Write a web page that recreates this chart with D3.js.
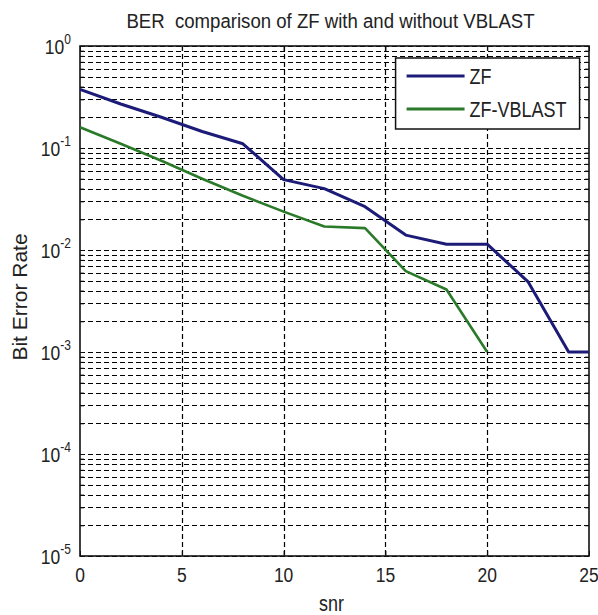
<!DOCTYPE html>
<html>
<head>
<meta charset="utf-8">
<script src="https://cdn.jsdelivr.net/npm/d3@7"></script>
<style>
body { margin: 0; background: #fff; }
text { font-family: "Liberation Sans", Arial, sans-serif; fill: #222; white-space: pre; }
</style>
</head>
<body>
<div id="chart"></div>
<script>
// snr points and BER values
var snr = [0, 2, 4, 6, 8, 10, 12, 14, 16, 18, 20, 22, 24, 25]
var berZF = [0.376, 0.27, 0.2, 0.145, 0.11, 0.049, 0.04, 0.0266, 0.014, 0.0114, 0.0114, 0.0049, 0.001, 0.001]
var snrV = [0, 2, 4, 6, 8, 10, 12, 14, 16, 18, 20]
var berVBLAST = [0.16, 0.11, 0.075, 0.05, 0.034, 0.0238, 0.017, 0.0164, 0.0062, 0.0041, 0.001]
var xTicks = [0, 5, 10, 15, 20, 25]
var yExps = [0, -1, -2, -3, -4, -5]
var seriesNames = ["ZF", "ZF-VBLAST"]
var seriesColors = ["#1c1c78", "#2a7a2a"]

var W = 598, H = 615
var margin = {top: 46, right: 9, bottom: 59, left: 80}
var width = W - margin.left - margin.right
var height = H - margin.top - margin.bottom

var svg = d3.select("#chart").append("svg")
	.attr("width", W)
	.attr("height", H)

var g = svg.append("g")
	.attr("transform", "translate(" + margin.left + "," + margin.top + ")")

var x = d3.scaleLinear().domain([0, 25]).range([0, width])
var y = d3.scaleLog().domain([1e-5, 1]).range([height, 0])

// minor log values for the horizontal grid
var yGrid = []
yExps.forEach(function(e) {
	for (var k = 1; k < 10; k++) {
		var v = k * Math.pow(10, e)
		if (v <= 1) yGrid.push(v)
	}
})

g.selectAll(".hgrid").data(yGrid).enter().append("line")
	.attr("x1", 0).attr("x2", width)
	.attr("y1", d => Math.round(y(d)) + 0.5).attr("y2", d => Math.round(y(d)) + 0.5)
	.attr("stroke", "#000").attr("stroke-width", 1.2)
	.attr("stroke-dasharray", "5,3")

g.selectAll(".vgrid").data(xTicks.slice(1, -1)).enter().append("line")
	.attr("x1", d => Math.round(x(d)) + 0.5).attr("x2", d => Math.round(x(d)) + 0.5)
	.attr("y1", 0).attr("y2", height)
	.attr("stroke", "#000").attr("stroke-width", 1.2)
	.attr("stroke-dasharray", "5,3")

// tick marks inside, on all sides
g.append("g").call(d3.axisBottom(x).tickValues(xTicks).tickSize(-5).tickFormat(""))
	.attr("transform", "translate(0," + height + ")")
g.append("g").call(d3.axisTop(x).tickValues(xTicks).tickSize(-5).tickFormat(""))
g.append("g").call(d3.axisLeft(y).tickValues(yGrid).tickSize(-4).tickFormat(""))
g.append("g").call(d3.axisRight(y).tickValues(yGrid).tickSize(-4).tickFormat(""))
	.attr("transform", "translate(" + width + ",0)")
g.selectAll(".domain").remove()
g.selectAll(".tick line").attr("stroke", "#111")

g.append("rect")
	.attr("width", width).attr("height", height)
	.attr("fill", "none").attr("stroke", "#111").attr("stroke-width", 1.6)

var line = d3.line()
	.x(d => x(d[0]))
	.y(d => y(d[1]))

g.append("path")
	.datum(d3.zip(snr, berZF))
	.attr("d", line)
	.attr("fill", "none")
	.attr("stroke", seriesColors[0])
	.attr("stroke-width", 3)
	.attr("stroke-linejoin", "round")

g.append("path")
	.datum(d3.zip(snrV, berVBLAST))
	.attr("d", line)
	.attr("fill", "none")
	.attr("stroke", seriesColors[1])
	.attr("stroke-width", 2.6)
	.attr("stroke-linejoin", "round")

// x tick labels
g.selectAll(".xlab").data(xTicks).enter().append("text")
	.attr("transform", d => "translate(" + x(d) + "," + (height + 26) + ") scale(1,1.2)")
	.attr("text-anchor", "middle")
	.style("font-size", "17.5px")
	.text(d => d)

// y tick labels 10^e
var yl = g.selectAll(".ylab").data(yExps).enter().append("text")
	.attr("transform", d => "translate(-9," + (y(Math.pow(10, d)) + 8) + ") scale(1,1.15)")
	.attr("text-anchor", "end")
	.style("font-size", "17.5px")
yl.append("tspan").text("10")
yl.append("tspan")
	.attr("dy", -9)
	.style("font-size", "12px")
	.text(d => d)

// title and axis labels
svg.append("text")
	.attr("transform", "translate(" + (margin.left + width / 2 - 4) + ",28) scale(1,1.05)")
	.attr("text-anchor", "middle")
	.style("font-size", "18.6px")
	.text("BER  comparison of ZF with and without VBLAST")

svg.append("text")
	.attr("transform", "translate(" + (margin.left + width / 2 - 3) + ",611) scale(1,1.2)")
	.attr("text-anchor", "middle")
	.style("font-size", "18px")
	.text("snr")

svg.append("text")
	.attr("transform", "translate(27," + (margin.top + height / 2 - 4) + ") rotate(-90) scale(1.05,1)")
	.attr("text-anchor", "middle")
	.style("font-size", "20px")
	.text("Bit Error Rate")

// legend
var legend = g.append("g")
	.attr("transform", "translate(" + (x(15.5) ) + ",12)")
legend.append("rect")
	.attr("width", 184).attr("height", 71)
	.attr("fill", "#fff").attr("stroke", "#111").attr("stroke-width", 1.5)
var items = legend.selectAll(".item").data(seriesNames).enter().append("g")
	.attr("transform", (d, i) => "translate(0," + (18 + i * 33) + ")")
items.append("line")
	.attr("x1", 11).attr("x2", 69)
	.attr("stroke", (d, i) => seriesColors[i])
	.attr("stroke-width", 3)
items.append("text")
	.attr("transform", "translate(74,8) scale(1,1.2)")
	.style("font-size", "18px")
	.text(d => d)
</script>
</body>
</html>
